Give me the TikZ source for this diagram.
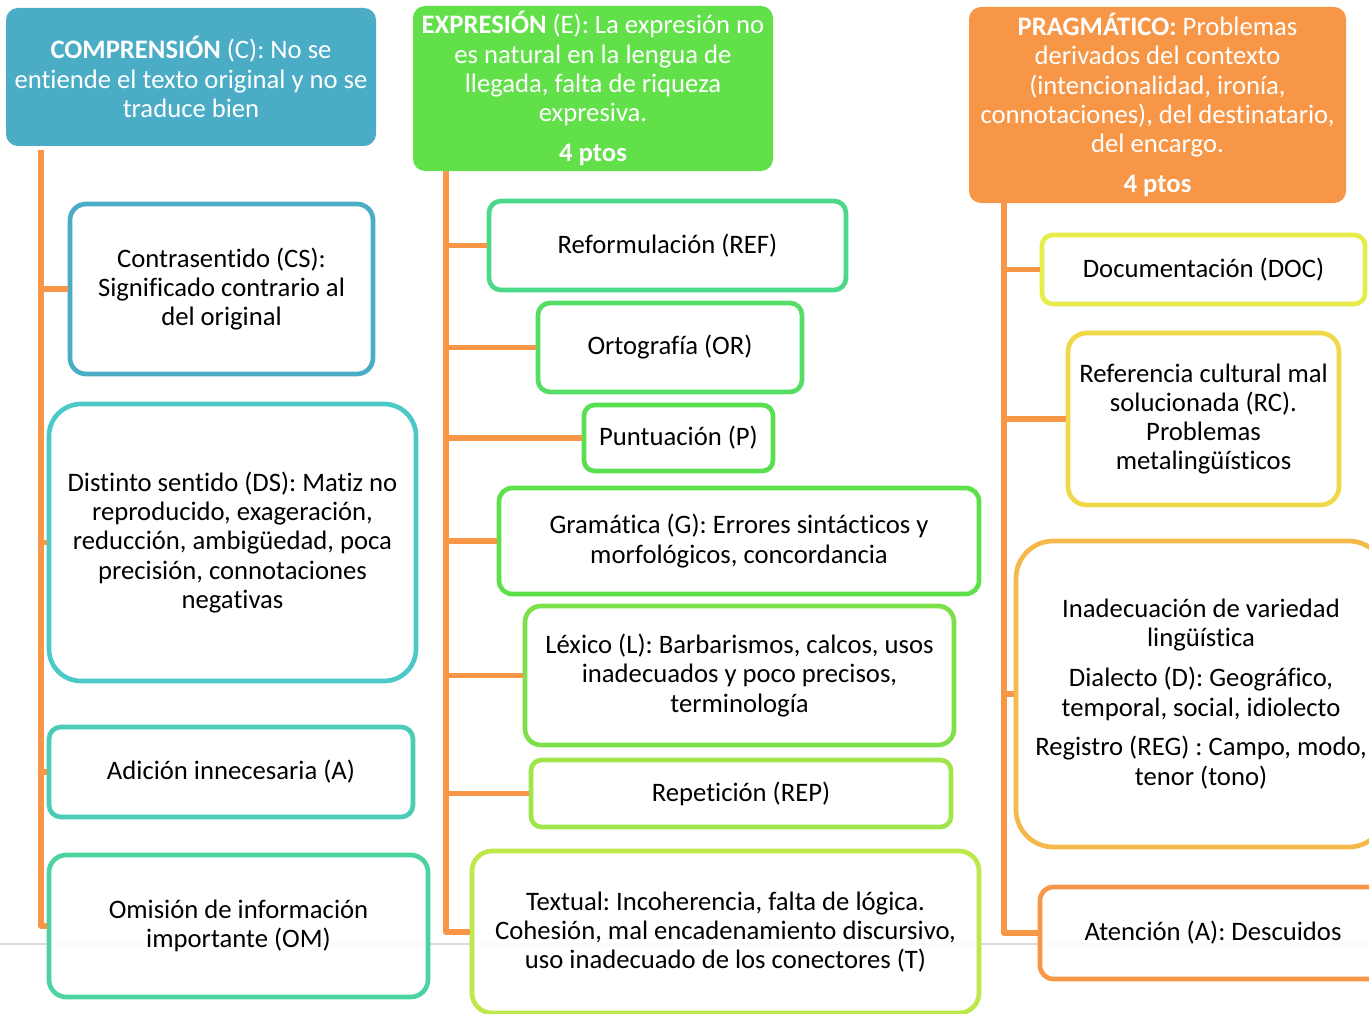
\documentclass[tikz,border=0pt]{standalone}
\usepackage{fontspec}
\setmainfont{Carlito}[Ligatures=NoCommon]
\frenchspacing
\definecolor{cC}{HTML}{4BACC6}
\definecolor{cE}{HTML}{62E04A}
\definecolor{cP}{HTML}{F79646}
\definecolor{kCS}{HTML}{4BACC6}
\definecolor{kDS}{HTML}{4BC8C8}
\definecolor{kAD}{HTML}{4BCCB4}
\definecolor{kOM}{HTML}{4BD4A0}
\definecolor{kREF}{HTML}{4BD88A}
\definecolor{kOR}{HTML}{55DD66}
\definecolor{kP}{HTML}{58E050}
\definecolor{kG}{HTML}{5EE04A}
\definecolor{kL}{HTML}{7DE04A}
\definecolor{kREP}{HTML}{A0E64A}
\definecolor{kT}{HTML}{BCE84A}
\definecolor{kDOC}{HTML}{E6EC4A}
\definecolor{kRC}{HTML}{F0D848}
\definecolor{kIN}{HTML}{F5B84A}
\definecolor{kAT}{HTML}{F79646}
\definecolor{conncol}{HTML}{F79646}
\definecolor{slide}{HTML}{D9D9D9}
\tikzset{
  header/.style={rounded corners=9pt, inner sep=0pt, align=center, text=white,
    font=\fontsize{20}{21.9}\selectfont},
  itembox/.style={draw=#1, fill=white, fill opacity=0.88, text opacity=1,
    line width=3.5pt, inner sep=0pt, align=center, text=black,
    font=\fontsize{20}{21.9}\selectfont},
  conn/.style={draw=conncol, line width=3.8pt, line join=round},
}
% \mybox{name}{x1}{y1}{x2}{y2}{style}{text}
\newcommand\mybox[7]{%
  \pgfmathsetmacro\bxw{(#4-#2-4)*0.75}%
  \pgfmathsetmacro\bxh{(#5-#3-4)*0.75}%
  \node[#6, minimum width=\bxw pt, minimum height=\bxh pt] (#1) at ({(#2+#4)/2},{(#3+#5)/2}) {#7};%
}
\newcommand\myhead[7]{%
  \pgfmathsetmacro\bxw{(#4-#2)*0.75}%
  \pgfmathsetmacro\bxh{(#5-#3)*0.75}%
  \node[#6, minimum width=\bxw pt, minimum height=\bxh pt] (#1) at ({(#2+#4)/2},{(#3+#5)/2}) {#7};%
}
\begin{document}
\begin{tikzpicture}[x=0.75pt, y=-0.75pt]
\useasboundingbox (0,0) rectangle (1369,1013);
\fill[white] (0,0) rectangle (1369,1013);
% slide edge line
\draw[slide, line width=1.5pt] (0,944) -- (1369,944);

% trunk reference coordinates
\coordinate (tC) at (41,0);
\coordinate (tE) at (446,0);
\coordinate (tP) at (1004,0);

% ---------- headers ----------
\myhead{hC}{6}{8}{376}{146}{header, fill=cC}{\textbf{COMPRENSIÓN} (C): No se\\entiende el texto original y no se\\traduce bien}
\myhead{hE}{413}{6}{773}{171}{header, fill=cE}{\textbf{EXPRESIÓN} (E): La expresión no\\es natural en la lengua de\\llegada, falta de riqueza\\expresiva.\\[8pt]\textbf{4 ptos}}
\myhead{hP}{969}{7}{1346}{203}{header, fill=cP}{\textbf{PRAGMÁTICO:} Problemas\\derivados del contexto\\(intencionalidad, ironía,\\connotaciones), del destinatario,\\del encargo.\\[8pt]\textbf{4 ptos}}

% ---------- column C ----------
\mybox{cs}{68}{202}{375}{376}{itembox=kCS, rounded corners=12pt}{Contrasentido (CS):\\Significado contrario al\\del original}
\mybox{ds}{47}{402}{418}{683}{itembox=kDS, rounded corners=24pt}{Distinto sentido (DS): Matiz no\\reproducido, exageración,\\reducción, ambigüedad, poca\\precisión, connotaciones\\negativas}
\mybox{ad}{47}{725}{415}{819}{itembox=kAD, rounded corners=9pt}{Adición innecesaria (A)}
\mybox{om}{47}{853}{430}{999}{itembox=kOM, rounded corners=13pt}{Omisión de información\\importante (OM)}

% ---------- column E ----------
\mybox{ref}{487}{199}{848}{292}{itembox=kREF, rounded corners=9pt}{Reformulación (REF)}
\mybox{ort}{536}{301}{804}{394}{itembox=kOR, rounded corners=9pt}{Ortografía (OR)}
\mybox{pun}{582}{403}{775}{473}{itembox=kP, rounded corners=8pt}{Puntuación (P)}
\mybox{gra}{497}{486}{981}{596}{itembox=kG, rounded corners=10pt}{Gramática (G): Errores sintácticos y\\morfológicos, concordancia}
\mybox{lex}{523}{604}{956}{747}{itembox=kL, rounded corners=12pt}{Léxico (L): Barbarismos, calcos, usos\\inadecuados y poco precisos,\\terminología}
\mybox{rep}{529}{758}{953}{829}{itembox=kREP, rounded corners=8pt}{Repetición (REP)}
\mybox{txt}{470}{849}{981}{1015}{itembox=kT, rounded corners=15pt}{Textual: Incoherencia, falta de lógica.\\Cohesión, mal encadenamiento discursivo,\\uso inadecuado de los conectores (T)}

% ---------- column P ----------
\mybox{doc}{1040}{233}{1367}{306}{itembox=kDOC, rounded corners=8pt}{Documentación (DOC)}
\mybox{rc}{1066}{331}{1341}{507}{itembox=kRC, rounded corners=14pt}{Referencia cultural mal\\solucionada (RC).\\Problemas\\metalingüísticos}
\mybox{inad}{1014}{539}{1388}{849}{itembox=kIN, rounded corners=28pt}{Inadecuación de variedad\\lingüística\\[8pt]Dialecto (D): Geográfico,\\temporal, social, idiolecto\\[8pt]Registro (REG) : Campo, modo,\\tenor (tono)}
\mybox{aten}{1038}{885}{1388}{981}{itembox=kAT, rounded corners=10pt}{Atención (A): Descuidos}

% ---------- connectors ----------
\draw[conn] ([yshift=-3pt]hC.south -| tC) |- (om.west);
\foreach \n in {cs,ds,ad} \draw[conn] (tC |- \n.west) -- (\n.west);

\draw[conn] (hE.south -| tE) |- (txt.west);
\foreach \n in {ref,ort,pun,gra,lex,rep} \draw[conn] (tE |- \n.west) -- (\n.west);

\draw[conn] (hP.south -| tP) |- (aten.west);
\foreach \n in {doc,rc,inad} \draw[conn] (tP |- \n.west) -- (\n.west);
\end{tikzpicture}
\end{document}
